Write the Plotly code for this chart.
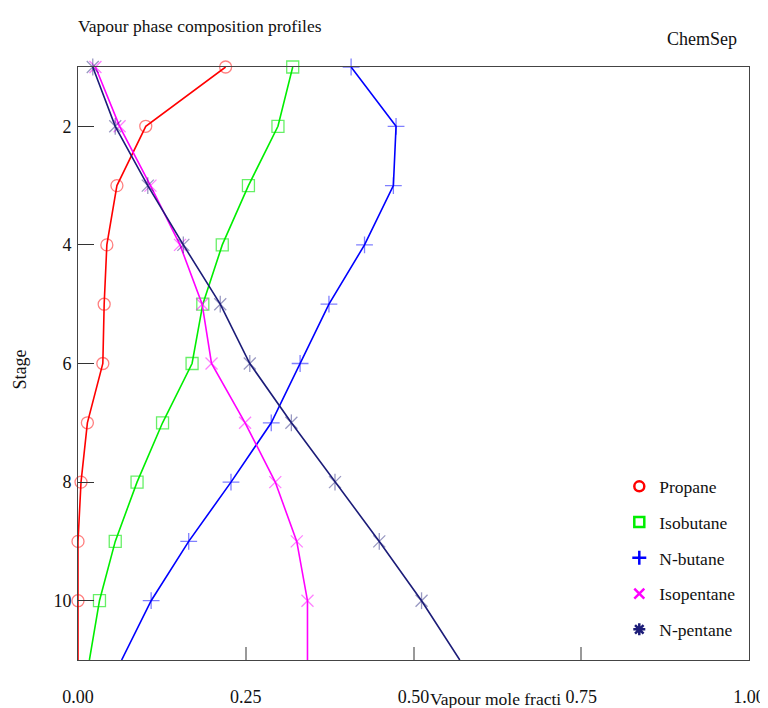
import plotly.graph_objects as go

stages = [1, 2, 3, 4, 5, 6, 7, 8, 9, 10, 11]
propane = [0.220, 0.101, 0.058, 0.043, 0.039, 0.037, 0.014, 0.0045, 0.0, 0.0, 0.0]
isobutane = [0.320, 0.298, 0.254, 0.215, 0.186, 0.170, 0.126, 0.088, 0.0555, 0.032, 0.017]
n_butane = [0.407, 0.474, 0.470, 0.427, 0.374, 0.331, 0.288, 0.228, 0.165, 0.109, 0.065]
isopentane = [0.026, 0.062, 0.108, 0.152, 0.185, 0.199, 0.249, 0.294, 0.326, 0.342, 0.342]
n_pentane = [0.022, 0.0555, 0.104, 0.157, 0.212, 0.256, 0.318, 0.383, 0.449, 0.512, 0.569]
marked_stages = 10  # markers drawn on stages 1..10

series = [
    ("Propane", propane, "#ff0000", "rgba(255,0,0,0.5)", ["circle-open"], "circle-open"),
    ("Isobutane", isobutane, "#00ee00", "rgba(0,230,0,0.6)", ["square-open"], "square-open"),
    ("N-butane", n_butane, "#0000ff", "rgba(0,0,255,0.5)", ["cross-thin-open"], "cross-thin-open"),
    ("Isopentane", isopentane, "#ff00ff", "rgba(255,0,255,0.5)", ["x-thin-open"], "x-thin-open"),
    ("N-pentane", n_pentane, "#1c1c78", "rgba(28,28,120,0.45)", ["x-thin-open", "line-ns-open"], "asterisk-open"),
]

FONT = "Liberation Serif"
INK = "#111"
fig = go.Figure()
for i, (name, vals, col, mcol, syms, legsym) in enumerate(series):
    fig.add_trace(go.Scatter(x=vals, y=stages, mode="lines",
                             line=dict(color=col, width=1.6), showlegend=False,
                             hoverinfo="skip"))
    for sym in syms:
        fig.add_trace(go.Scatter(x=vals[:marked_stages], y=stages[:marked_stages], mode="markers",
                                 marker=dict(symbol=sym, size=12, color=mcol,
                                             line=dict(color=mcol, width=1.3)),
                                 showlegend=False, cliponaxis=False, name=name))
    fig.add_trace(go.Scatter(x=[None], y=[None], mode="markers", name=name,
                             legendgroup=f"g{i}",
                             marker=dict(symbol=legsym, size=10, color=col,
                                         line=dict(color=col, width=2.5))))

# page body has an 8px margin, so the figure is 760x700 placed at (8, 8)
fig.update_layout(
    width=760, height=700,
    margin=dict(l=70, r=19, t=59, b=48),
    plot_bgcolor="white", paper_bgcolor="white",
    font=dict(family=FONT, size=18, color=INK),
    showlegend=True,
    legend=dict(x=0.8067, y=0.323, xanchor="left", yanchor="top",
                bgcolor="rgba(0,0,0,0)", font=dict(family=FONT, size=17.5, color=INK),
                traceorder="grouped", tracegroupgap=10),
    xaxis=dict(range=[0, 1.0], tickvals=[0, 0.25, 0.5, 0.75, 1.0],
               ticktext=["0.00", "0.25", "0.50", "0.75", "1.00"],
               showgrid=False, zeroline=False, showline=True, mirror=True,
               linecolor="#444", linewidth=1, automargin=False,
               ticks="inside", ticklen=13, tickcolor="#999", tickwidth=1.5,
               ticklabelstandoff=20,
               tickfont=dict(family=FONT, size=18, color=INK)),
    yaxis=dict(range=[11, 1], tickvals=[2, 4, 6, 8, 10],
               showgrid=False, zeroline=False, showline=True, mirror=True,
               linecolor="#444", linewidth=1, automargin=False,
               ticks="inside", ticklen=16, tickcolor="#333", tickwidth=1.2,
               ticklabelstandoff=2,
               tickfont=dict(family=FONT, size=18, color=INK)),
    annotations=[
        dict(text="Vapour phase composition profiles", xref="paper", yref="paper",
             x=0.0, y=1.0, xanchor="left", yanchor="bottom", yshift=29, xshift=-2,
             showarrow=False, font=dict(family=FONT, size=17.5, color=INK)),
        dict(text="ChemSep", xref="paper", yref="paper",
             x=0.985, y=1.0, xanchor="right", yanchor="bottom", yshift=16, showarrow=False,
             font=dict(family=FONT, size=18, color=INK)),
        dict(text="Vapour mole fracti", xref="paper", yref="paper",
             x=0.522, y=0.0, xanchor="left", yanchor="middle", yshift=-39, showarrow=False,
             font=dict(family=FONT, size=17.5, color=INK)),
        dict(text="Stage", xref="paper", yref="paper", textangle=-90,
             x=0.0, y=0.49, xanchor="center", yanchor="middle", xshift=-58, showarrow=False,
             font=dict(family=FONT, size=18, color=INK)),
    ],
)

fig.write_html("out.html")
